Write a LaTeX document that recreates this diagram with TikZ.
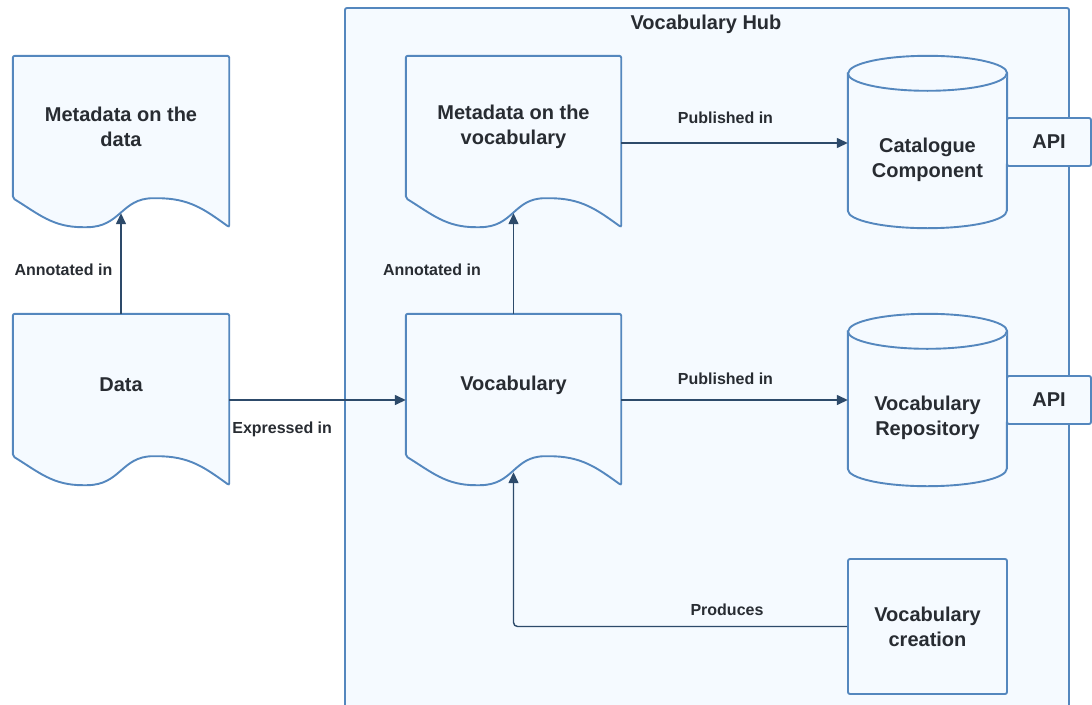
\documentclass[tikz,border=0pt]{standalone}
\usepackage{fontspec}
\setmainfont{Liberation Sans}
\usepackage{xcolor}
\usetikzlibrary{positioning,calc}
\usetikzlibrary{arrows.meta}
\definecolor{edge}{RGB}{84, 135, 190}
\definecolor{flowcol}{RGB}{45, 74, 106}
\definecolor{paper}{RGB}{245, 250, 255}
\definecolor{ink}{RGB}{40, 44, 50}

\pgfdeclarelayer{hublayer}
\pgfdeclarelayer{shapes}
\pgfsetlayers{hublayer,shapes,main}

% outline of a document node (wave at the bottom)
\newcommand{\docshape}[1]{%
  \begin{pgfonlayer}{shapes}
    \draw[outline] (#1.north west) -- (#1.north east) -- ($(#1.south east)+(0,29)$)
      .. controls +(-25,-18) and +(34,0) .. ($(#1.south east)+(-74,0)$)
      .. controls +(-34,0) and +(36,0) .. ($(#1.south west)+(72,29)$)
      .. controls +(-32,0) and +(26,16) .. (#1.south west) -- cycle;
  \end{pgfonlayer}}

% outline of a cylinder node (node is the body below the lid)
\newcommand{\cylshape}[1]{%
  \begin{pgfonlayer}{shapes}
    \draw[outline, sharp corners] ($(#1.north west)+(0,-17.5)$) -- ($(#1.south west)+(0,-17.5)$)
      arc[start angle=180, end angle=360, x radius=79.5pt, y radius=17.5pt]
      -- ($(#1.north east)+(0,-17.5)$)
      arc[start angle=0, end angle=180, x radius=79.5pt, y radius=17.5pt] -- cycle;
    \draw[outline, sharp corners, fill=none] ($(#1.north west)+(0,-17.5)$)
      arc[start angle=180, end angle=360, x radius=79.5pt, y radius=17.5pt];
  \end{pgfonlayer}}

\tikzset{
  outline/.style={draw=edge, line width=1.9pt, fill=paper, rounded corners=2pt},
  docbox/.style={minimum width=216, minimum height=142, inner sep=0, align=center,
    text=ink, font=\fontsize{20}{25}\selectfont\bfseries},
  cylbox/.style={minimum width=159, minimum height=137, inner sep=0, align=center,
    text=ink, font=\fontsize{20}{25}\selectfont\bfseries},
  apibox/.style={outline, minimum width=84, minimum height=48, inner sep=0,
    text=ink, font=\fontsize{20}{25}\selectfont\bfseries},
  procbox/.style={outline, minimum width=159, minimum height=135, inner sep=0,
    align=center, text=ink, font=\fontsize{20}{25}\selectfont\bfseries},
  flow/.style={draw=flowcol, line width=1.4pt, -{Triangle[length=11pt, width=10pt]}},
  lbl/.style={inner sep=0, text=ink, font=\fontsize{16}{19}\selectfont\bfseries}
}

\begin{document}
\begin{tikzpicture}[x=1pt, y=-1pt]
  \useasboundingbox (0,0) rectangle (1092,704);

  % the hub
  \begin{pgfonlayer}{hublayer}
    \draw[draw=edge, line width=1.9pt, fill=paper, rounded corners=2pt] (345,8) rectangle (1069,712);
  \end{pgfonlayer}
  \node[lbl, font=\fontsize{20}{25}\selectfont\bfseries] (hubtitle) at (706,24) {Vocabulary Hub};

  % documents
  \node[docbox] (metaData) at (121,127) {Metadata on the\\data};
  \docshape{metaData}
  \node[docbox] (data) at (121,385) {Data};
  \docshape{data}
  \node[docbox, minimum width=215] (metaVoc) at (513.5,127) {Metadata on the\\vocabulary};
  \docshape{metaVoc}
  \node[docbox, minimum width=215] (vocab) at (513.5,385) {Vocabulary};
  \docshape{vocab}

  % stores
  \node[cylbox] (catalogue) at (927.5,159.5) {Catalogue\\Component};
  \cylshape{catalogue}
  \node[cylbox] (repo) at (927.5,417.5) {Vocabulary\\Repository};
  \cylshape{repo}

  \node[apibox] (apiCat) at (1049,142) {API};
  \node[apibox] (apiRepo) at (1049,400) {API};

  \node[procbox] (creation) at (927.5,626.5) {Vocabulary\\creation};

  % connectors
  \draw[flow] (data.north) -- node[lbl, left=8pt, yshift=-6pt] {Annotated in} ($(metaData.south)+(0,15)$);
  \draw[flow] (vocab.north) -- node[lbl, left=32pt, yshift=-6pt] {Annotated in} ($(metaVoc.south)+(0,15)$);

  \draw[flow] (data.east) ++(0,15) coordinate (dOut)
    -- node[lbl, pos=0.3, below=21pt] {Expressed in} (dOut -| vocab.west);

  \draw[flow] (metaVoc.east) ++(0,16) coordinate (mOut)
    -- node[lbl, pos=0.46, above=19pt] {Published in} (mOut -| catalogue.west);
  \draw[flow] (vocab.east) ++(0,15) coordinate (vOut)
    -- node[lbl, pos=0.46, above=15pt] {Published in} (vOut -| repo.west);

  \draw[flow, rounded corners=4pt] (creation.west)
    -| node[lbl, pos=0.18, above=10pt] {Produces} ($(vocab.south)+(0,16)$);
\end{tikzpicture}
\end{document}
